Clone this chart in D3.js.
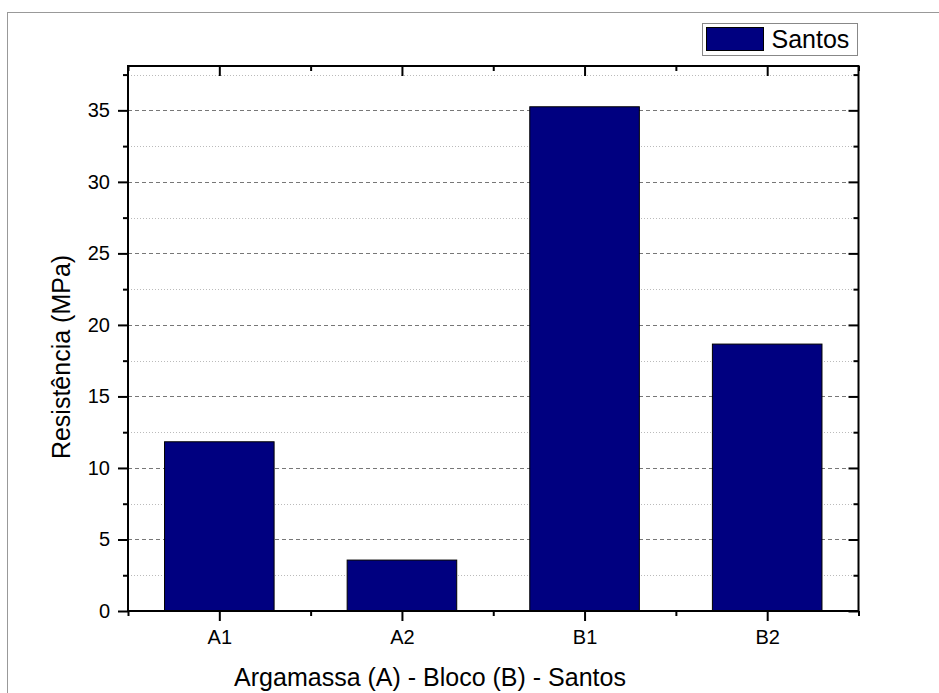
<!DOCTYPE html>
<html>
<head>
<meta charset="utf-8">
<script src="https://cdn.jsdelivr.net/npm/d3@7"></script>
<style>
  body { margin: 0; background: #fff; }
  svg { display: block; font-family: "Liberation Sans", Arial, sans-serif; }
</style>
</head>
<body>
<div id="canvas"></div>
<script>
const categories = ["A1", "A2", "B1", "B2"];
const values = [11.83, 3.56, 35.25, 18.66];
const seriesName = "Santos";
const yMajorTicks = [0, 5, 10, 15, 20, 25, 30, 35];
const yMinorTicks = [2.5, 7.5, 12.5, 17.5, 22.5, 27.5, 32.5, 37.5];
const xLabel = "Argamassa (A) - Bloco (B) - Santos";
const yLabel = "Resistência (MPa)";

const W = 939, H = 693;
const plotLeft = 128, plotRight = 858.5, plotTop = 66, plotBottom = 611;
const barColor = "#000080";

const svg = d3.select("#canvas")
  .append("svg")
  .attr("width", W)
  .attr("height", H);

// page frame
svg.append("rect")
  .attr("x", 7.5).attr("y", 12.5)
  .attr("width", W + 10).attr("height", H + 10)
  .attr("fill", "none")
  .attr("stroke", "#999");

const x = d3.scaleLinear().domain([0.5, 4.5]).range([plotLeft, plotRight]);
const y = d3.scaleLinear().domain([0, 38.1]).range([plotBottom, plotTop]);
const barW = (x(1.3) - x(0.7));

// grid lines
svg.append("g")
  .selectAll("line")
  .data(yMinorTicks)
  .enter()
  .append("line")
  .attr("x1", plotLeft).attr("x2", plotRight)
  .attr("y1", d => Math.round(y(d)) + 0.5)
  .attr("y2", d => Math.round(y(d)) + 0.5)
  .attr("stroke", "#bbb")
  .attr("stroke-dasharray", "1,2");

svg.append("g")
  .selectAll("line")
  .data(yMajorTicks.filter(d => d > 0))
  .enter()
  .append("line")
  .attr("x1", plotLeft).attr("x2", plotRight)
  .attr("y1", d => Math.round(y(d)) + 0.5)
  .attr("y2", d => Math.round(y(d)) + 0.5)
  .attr("stroke", "#777")
  .attr("stroke-dasharray", "4,3");

// bars
svg.append("g")
  .selectAll("rect")
  .data(values)
  .enter()
  .append("rect")
  .attr("x", (d, i) => x(i + 1) - barW / 2)
  .attr("y", d => y(d))
  .attr("width", barW)
  .attr("height", d => y(0) - y(d))
  .attr("fill", barColor)
  .attr("stroke", "#000")
  .attr("stroke-width", 1);

// axes
const yAxisL = d3.axisLeft(y).tickValues(yMajorTicks).tickSize(10).tickPadding(8);
const yAxisLMinor = d3.axisLeft(y).tickValues(yMinorTicks).tickSize(5).tickFormat("");
const yAxisR = d3.axisLeft(y).tickValues(yMajorTicks).tickSize(10).tickFormat("");
const yAxisRMinor = d3.axisLeft(y).tickValues(yMinorTicks).tickSize(5).tickFormat("");
const xTicks = categories.map((c, i) => i + 1);
const xMinor = [0.5, 1.5, 2.5, 3.5, 4.5];
const xAxisB = d3.axisBottom(x).tickValues(xTicks).tickSize(10).tickPadding(9)
  .tickFormat(d => categories[d - 1]);
const xAxisBMinor = d3.axisBottom(x).tickValues(xMinor).tickSize(5).tickFormat("");
const xAxisT = d3.axisBottom(x).tickValues(xTicks).tickSize(10).tickFormat("");
const xAxisTMinor = d3.axisBottom(x).tickValues(xMinor).tickSize(5).tickFormat("");

function styleAxis(g) {
  g.select(".domain").remove();
  g.selectAll("line").attr("stroke", "#000").attr("stroke-width", 2);
  g.selectAll("text").attr("fill", "#000").style("font-size", "20px")
    .style("font-family", "Liberation Sans, Arial, sans-serif");
}

svg.append("g").attr("transform", `translate(${plotLeft},0)`).call(yAxisL).call(styleAxis);
svg.append("g").attr("transform", `translate(${plotLeft},0)`).call(yAxisLMinor).call(styleAxis);
svg.append("g").attr("transform", `translate(${plotRight},0)`).call(yAxisR).call(styleAxis);
svg.append("g").attr("transform", `translate(${plotRight},0)`).call(yAxisRMinor).call(styleAxis);
svg.append("g").attr("transform", `translate(0,${plotBottom})`).call(xAxisB).call(styleAxis);
svg.append("g").attr("transform", `translate(0,${plotBottom})`).call(xAxisBMinor).call(styleAxis);
svg.append("g").attr("transform", `translate(0,${plotTop})`).call(xAxisT).call(styleAxis);
svg.append("g").attr("transform", `translate(0,${plotTop})`).call(xAxisTMinor).call(styleAxis);

// frame
svg.append("rect")
  .attr("x", plotLeft).attr("y", plotTop)
  .attr("width", plotRight - plotLeft).attr("height", plotBottom - plotTop)
  .attr("fill", "none")
  .attr("stroke", "#000")
  .attr("stroke-width", 2);

// axis titles
svg.append("text")
  .attr("x", 430)
  .attr("y", 686)
  .attr("text-anchor", "middle")
  .style("font-size", "25px")
  .text(xLabel);

svg.append("text")
  .attr("transform", `translate(70,357) rotate(-90)`)
  .attr("text-anchor", "middle")
  .style("font-size", "25px")
  .text(yLabel);

// legend
const lg = svg.append("g").attr("transform", "translate(702.5,23.5)");
lg.append("rect")
  .attr("width", 155).attr("height", 32)
  .attr("fill", "#fff").attr("stroke", "#888");
lg.append("rect")
  .attr("x", 4).attr("y", 4).attr("width", 57).attr("height", 23)
  .attr("fill", barColor).attr("stroke", "#000");
lg.append("text")
  .attr("x", 69).attr("y", 24)
  .style("font-size", "25px")
  .text(seriesName);
</script>
</body>
</html>
